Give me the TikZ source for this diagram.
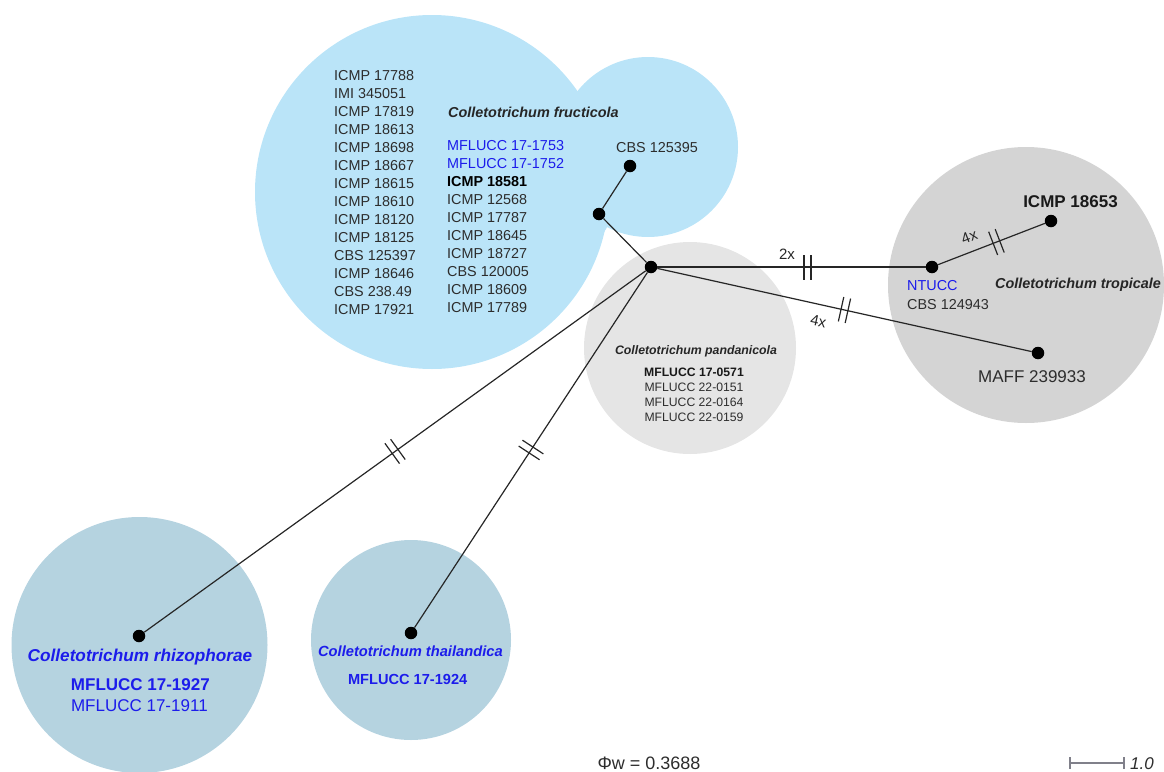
\documentclass[tikz,border=0pt]{standalone}
\usepackage{fontspec}
\setmainfont{Liberation Sans}
\usetikzlibrary{decorations.markings}
\usepackage{xcolor}

\definecolor{frublue}{RGB}{186,228,248}
\definecolor{pangrey}{RGB}{229,229,229}
\definecolor{trogrey}{RGB}{212,212,212}
\definecolor{rhiblue}{RGB}{181,211,224}
\definecolor{idblue}{RGB}{28,28,235}
\definecolor{idgrey}{RGB}{45,45,45}
\definecolor{bargrey}{RGB}{128,128,138}
\newcommand{\fsz}[1]{\fontsize{#1}{#1}\selectfont}

\begin{document}
\begin{tikzpicture}[x=1pt,y=-1pt,
  dot/.style={circle,fill=black,inner sep=0pt,minimum size=12.5pt},
  edge/.style={line width=1.2pt,draw=black!85},
  brk/.style={postaction={decorate,decoration={markings,
      mark=at position #1 with {\draw[line width=1.2pt,black!85]
        (-3.5pt,-12.5pt) -- (-3.5pt,12.5pt) (3.5pt,-12.5pt) -- (3.5pt,12.5pt);}}}},
  strain/.style={inner sep=0pt,text=idgrey,font=\fsz{14.4}},
  spname/.style={inner sep=0pt,text=black!85,font=\fsz{14.4}\bfseries\itshape},
  elbl/.style={inner sep=0pt,text=black!85,font=\fsz{15}}]
      %\draw[help lines] (0,0) grid[step=50pt] (1164,771); % Only for Development
      \useasboundingbox (0,0) rectangle (1164,771);
      \clip (0,0) rectangle (1164,771);

      % haplogroup blobs
      \fill[frublue] (432,192) circle (177pt);
      \fill[frublue] (648,147) circle (90pt);
      \fill[frublue] (432,192) -- (648,147) -- (606,229)
        .. controls (582,268) and (565,300) .. (545,328) -- cycle;
      \fill[pangrey] (690,348) circle (106pt);
      \fill[trogrey] (1026,285) circle (138pt);
      \fill[rhiblue] (139.5,645) circle (128pt);
      \fill[rhiblue] (411,640) circle (100pt);

      % haplotypes
      \node[dot] (hub) at (651,267) {};
      \node[dot] (fruA) at (599,214) {};
      \node[dot] (cbs95) at (630,166) {};
      \node[dot] (ntucc) at (932,267) {};
      \node[dot] (icmp53) at (1051,221) {};
      \node[dot] (maff) at (1038,353) {};
      \node[dot] (rhizo) at (139,636) {};
      \node[dot] (thai) at (411,633) {};

      \draw[edge] (hub) -- (fruA);
      \draw[edge] (fruA) -- (cbs95);
      \draw[edge,brk=0.56] (hub) -- node[elbl,pos=0.483,above=6.5pt] (lbl2x) {2x} (ntucc);
      \draw[edge,brk=0.5] (hub) -- node[elbl,pos=0.44,sloped,below=11pt] (lbl4xa) {4x} (maff);
      \draw[edge,brk=0.546] (ntucc) -- node[elbl,pos=0.34,sloped,above=8.5pt] (lbl4xb) {4x} (icmp53);
      \draw[edge,brk=0.5] (hub) -- (rhizo);
      \draw[edge,brk=0.5] (hub) -- (thai);

      % C. fructicola
      \foreach \s [count=\i from 0] in {ICMP 17788,IMI 345051,ICMP 17819,ICMP 18613,
          ICMP 18698,ICMP 18667,ICMP 18615,ICMP 18610,ICMP 18120,ICMP 18125,
          CBS 125397,ICMP 18646,CBS 238.49,ICMP 17921}
        \node[strain,anchor=base west] (fl\i) at (334,{80.2+18*\i}) {\s};
      \node[spname,anchor=base west] (fruname) at (448,117.2) {Colletotrichum fructicola};
      \node[strain,anchor=base west,text=idblue] (fr0) at (447,150.2) {MFLUCC 17-1753};
      \node[strain,anchor=base west,text=idblue] (fr1) at (447,168.2) {MFLUCC 17-1752};
      \node[strain,anchor=base west,text=black,font=\fsz{14.4}\bfseries] (fr2) at (447,186.2) {ICMP 18581};
      \foreach \s [count=\i from 3] in {ICMP 12568,ICMP 17787,ICMP 18645,ICMP 18727,
          CBS 120005,ICMP 18609,ICMP 17789}
        \node[strain,anchor=base west] (fr\i) at (447,{150.2+18*\i}) {\s};
      \node[strain,anchor=base west] (cbs95lbl) at (616,152.2) {CBS 125395};

      % C. pandanicola
      \node[spname,anchor=base,font=\fsz{12.3}\bfseries\itshape] (panname) at (696,354.4) {Colletotrichum pandanicola};
      \node[strain,anchor=base,text=black!90,font=\fsz{12.2}\bfseries] (pan0) at (694,376) {MFLUCC 17-0571};
      \foreach \s [count=\i from 1] in {MFLUCC 22-0151,MFLUCC 22-0164,MFLUCC 22-0159}
        \node[strain,anchor=base,font=\fsz{12.2}] (pan\i) at (694,{376+15*\i}) {\s};

      % C. tropicale
      \node[strain,anchor=base,text=black!90,font=\fsz{17}\bfseries] (icmp53lbl) at (1070.5,207.8) {ICMP 18653};
      \node[spname,anchor=base west] (troname) at (995,288.5) {Colletotrichum tropicale};
      \node[strain,anchor=base west,text=idblue] (ntucclbl) at (907,290.9) {NTUCC};
      \node[strain,anchor=base west] (cbs43lbl) at (907,309.5) {CBS 124943};
      \node[strain,anchor=base,font=\fsz{17}] (mafflbl) at (1032,382.8) {MAFF 239933};

      % C. rhizophorae
      \node[spname,anchor=base,text=idblue,font=\fsz{17.2}\bfseries\itshape] (rhiname) at (140,661.2) {Colletotrichum rhizophorae};
      \node[strain,anchor=base,text=idblue,font=\fsz{17}\bfseries] (rhi0) at (140.4,690.1) {MFLUCC 17-1927};
      \node[strain,anchor=base,text=idblue,font=\fsz{17}] (rhi1) at (139.4,711.1) {MFLUCC 17-1911};

      % C. thailandica
      \node[spname,anchor=base,text=idblue,font=\fsz{14.7}\bfseries\itshape] (thainame) at (410.4,656.6) {Colletotrichum thailandica};
      \node[strain,anchor=base,text=idblue,font=\fsz{14.6}\bfseries] (thai0) at (407.7,684.8) {MFLUCC 17-1924};

      % index and scale bar
      \node[strain,anchor=base,font=\fsz{18}] (phiw) at (649,769.5) {Φw = 0.3688};
      \coordinate (sbl) at (1070,763);
      \coordinate (sbr) at (1124,763);
      \draw[bargrey,line width=2pt] (sbl) -- (sbr);
      \draw[bargrey,line width=1.6pt] ([yshift=6pt]sbl) -- ([yshift=-6pt]sbl);
      \draw[bargrey,line width=1.6pt] ([yshift=6pt]sbr) -- ([yshift=-6pt]sbr);
      \node[strain,anchor=base west,font=\fsz{17}\itshape] (sbval) at (1130,769.5) {1.0};
\end{tikzpicture}
\end{document}
